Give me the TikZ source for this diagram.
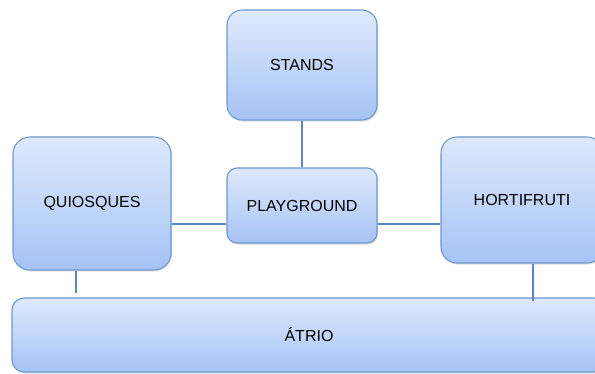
\documentclass[tikz,border=0pt]{standalone}
\usepackage{fontspec}
\setmainfont{Liberation Sans}
\usetikzlibrary{shadows,calc}
\definecolor{boxtop}{HTML}{DEE9FC}
\definecolor{boxbot}{HTML}{A5C3F5}
\definecolor{boxedge}{HTML}{6E98D0}
\definecolor{linec}{HTML}{5B86C0}
\tikzset{
  blk/.style={draw=boxedge, line width=1.1pt, top color=boxtop, bottom color=boxbot,
    drop shadow={opacity=0.25, shadow xshift=1pt, shadow yshift=-1.5pt},
    inner sep=0pt, font=\fontsize{16}{19}\selectfont, text=black},
  conn/.style={draw=linec, line width=2pt}
}
\begin{document}
\begin{tikzpicture}[x=1pt,y=-1pt]
\useasboundingbox (0,0) rectangle (595,373);
\fill[white] (0,0) rectangle (595,373);
\node[blk, rounded corners=15pt, minimum width=150pt, minimum height=110pt] (st) at (302,65) {STANDS};
\node[blk, rounded corners=17pt, minimum width=158pt, minimum height=133pt] (qu) at (92,203.5) {QUIOSQUES};
\node[blk, rounded corners=10pt, minimum width=150pt, minimum height=75pt] (pg) at (302,205.5) {PLAYGROUND};
\node[blk, rounded corners=16pt, minimum width=162pt, minimum height=126pt] (ho) at (522,200) {HORTIFRUTI};
\node[blk, rounded corners=12pt, minimum width=594pt, minimum height=74pt] (at) at (309,335) {ÁTRIO};
\draw[conn] (st.south) -- (pg.north);
\draw[conn] (qu.east |- 0,224) -- (pg.west |- 0,224);
\draw[conn] (pg.east |- 0,224) -- (ho.west |- 0,224);
\draw[conn] (qu.south -| 76,0) -- ($(at.north -| 76,0)+(0,-4)$);
\draw[conn] (ho.south -| 533,0) -- ($(at.north -| 533,0)+(0,4)$);
\end{tikzpicture}
\end{document}
